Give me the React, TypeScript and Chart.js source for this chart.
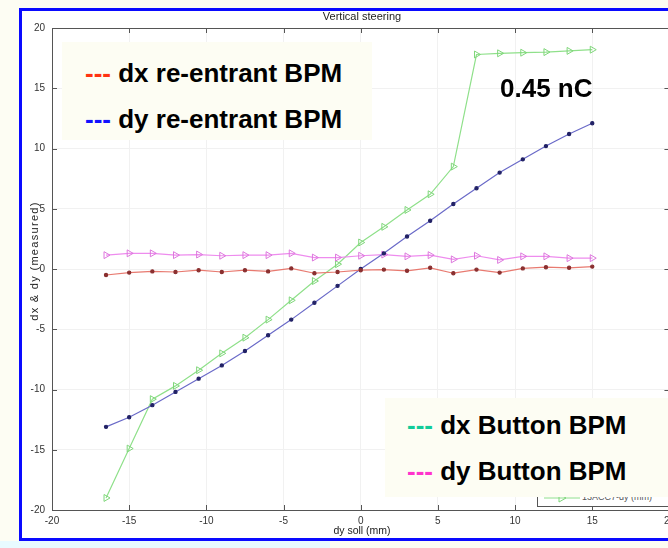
import React, { useEffect, useRef } from 'react';
import { Chart, registerables } from 'chart.js';

Chart.register(...registerables);

// ---- data ----
const xSoll = [-16.5, -15, -13.5, -12, -10.5, -9, -7.5, -6, -4.5, -3, -1.5, 0, 1.5, 3, 4.5, 6, 7.5, 9, 10.5, 12, 13.5, 15];
const redSeries = [-0.5, -0.3, -0.2, -0.25, -0.1, -0.25, -0.1, -0.2, 0.05, -0.35, -0.25, -0.1, -0.05, -0.15, 0.1, -0.35, -0.05, -0.3, 0.05, 0.15, 0.1, 0.2];
const blueSeries = [-13.1, -12.3, -11.3, -10.2, -9.1, -8.0, -6.8, -5.5, -4.2, -2.8, -1.4, 0, 1.3, 2.7, 4.0, 5.4, 6.7, 8.0, 9.1, 10.2, 11.2, 12.1];
const pinkSeries = [1.15, 1.3, 1.3, 1.15, 1.2, 1.1, 1.15, 1.15, 1.3, 0.95, 0.95, 1.1, 1.2, 1.05, 1.15, 0.8, 1.1, 0.75, 1.05, 1.05, 0.9, 0.9];
const greenSeries = [-19.0, -14.9, -10.8, -9.7, -8.4, -7.0, -5.7, -4.2, -2.6, -1.0, 0.4, 2.2, 3.5, 4.9, 6.2, 8.5, 17.8, 17.9, 17.95, 18.0, 18.1, 18.2];
const xTicks = [-20, -15, -10, -5, 0, 5, 10, 15, 20];
const yTicks = [-20, -15, -10, -5, 0, 5, 10, 15, 20];

const chartTitle = 'Vertical steering';
const xTitle = 'dy soll (mm)';
const yTitle = 'dx & dy (measured)';
const legendTop = [
  { dash: '---', color: '#ff3311', text: 'dx re-entrant BPM' },
  { dash: '---', color: '#1111ff', text: 'dy re-entrant BPM' },
];
const legendBottom = [
  { dash: '---', color: '#11cc99', text: 'dx Button BPM' },
  { dash: '---', color: '#ff33cc', text: 'dy Button BPM' },
];
const chargeLabel = '0.45 nC';
const matlabLegendLabel = '13ACC7-dy (mm)';

const toPts = (ys: number[]) => ys.map((y, i) => ({ x: xSoll[i], y }));

const matlabFrame = {
  id: 'matlabFrame',
  afterDraw(chart: any) {
    const { ctx, chartArea: a, scales } = chart;
    ctx.save();
    ctx.strokeStyle = '#555';
    ctx.lineWidth = 1;
    ctx.strokeRect(Math.round(a.left) + 0.5, Math.round(a.top) + 0.5, Math.round(a.right - a.left), Math.round(a.bottom - a.top));
    ctx.beginPath();
    xTicks.forEach((v) => {
      const px = Math.round(scales.x.getPixelForValue(v)) + 0.5;
      ctx.moveTo(px, a.bottom);
      ctx.lineTo(px, a.bottom - 5);
      ctx.moveTo(px, a.top);
      ctx.lineTo(px, a.top + 5);
    });
    yTicks.forEach((v) => {
      const py = Math.round(scales.y.getPixelForValue(v)) + 0.5;
      ctx.moveTo(a.left, py);
      ctx.lineTo(a.left + 5, py);
      ctx.moveTo(a.right, py);
      ctx.lineTo(a.right - 5, py);
    });
    ctx.stroke();
    ctx.restore();
  },
};

const bigFont = 'bold 26px "Liberation Sans", Arial, sans-serif';
const smallFont = '"Liberation Sans", Arial, sans-serif';

export default function App() {
  const ref = useRef<HTMLCanvasElement>(null);

  useEffect(() => {
    const canvas = ref.current;
    if (!canvas) return;
    const tickFont = { family: '"Liberation Sans", Arial, sans-serif', size: 10 };
    const chart = new Chart(canvas, {
      type: 'scatter',
      data: {
        datasets: [
          {
            label: 'dx',
            data: toPts(redSeries),
            showLine: true,
            borderColor: '#e87a70',
            borderWidth: 1.2,
            pointStyle: 'circle',
            pointRadius: 1.6,
            pointBackgroundColor: '#8a3030',
            pointBorderColor: '#8a3030',
          },
          {
            label: 'dy',
            data: toPts(blueSeries),
            showLine: true,
            borderColor: '#6a6ac8',
            borderWidth: 1.2,
            pointStyle: 'circle',
            pointRadius: 1.6,
            pointBackgroundColor: '#222266',
            pointBorderColor: '#222266',
          },
          {
            label: 'pink',
            data: toPts(pinkSeries),
            showLine: true,
            borderColor: '#ee8cee',
            borderWidth: 1.2,
            pointStyle: 'triangle',
            rotation: 90,
            pointRadius: 4,
            pointBackgroundColor: 'rgba(0,0,0,0)',
            pointBorderColor: '#dd77dd',
            pointBorderWidth: 1,
          },
          {
            label: matlabLegendLabel,
            data: toPts(greenSeries),
            showLine: true,
            borderColor: '#8fe08a',
            borderWidth: 1.2,
            pointStyle: 'triangle',
            rotation: 90,
            pointRadius: 4,
            pointBackgroundColor: 'rgba(0,0,0,0)',
            pointBorderColor: '#7fd67a',
            pointBorderWidth: 1,
          },
        ],
      },
      options: {
        animation: false,
        responsive: false,
        devicePixelRatio: 1,
        layout: { padding: { top: 28, right: 8, left: 0, bottom: 0 } },
        plugins: { legend: { display: false }, tooltip: { enabled: false }, title: { display: false } },
        scales: {
          x: {
            type: 'linear',
            min: -20,
            max: 20,
            afterBuildTicks: (s: any) => { s.ticks = xTicks.map((v) => ({ value: v })); },
            afterFit: (s: any) => { s.height = 38; },
            ticks: { font: tickFont, color: '#333', padding: 5, maxRotation: 0, autoSkip: false },
            grid: { color: '#f1f1f1', drawTicks: false },
            border: { display: false },
          },
          y: {
            type: 'linear',
            min: -20,
            max: 20,
            afterBuildTicks: (s: any) => { s.ticks = yTicks.map((v) => ({ value: v })); },
            afterFit: (s: any) => { s.width = 52; },
            ticks: { font: tickFont, color: '#333', padding: 7, autoSkip: false },
            grid: { color: '#f1f1f1', drawTicks: false },
            border: { display: false },
          },
        },
      },
      plugins: [matlabFrame],
    });
    return () => chart.destroy();
  }, []);

  const lineStyle = (top: number, left: number): React.CSSProperties => ({
    position: 'absolute',
    top,
    left,
    font: bigFont,
    lineHeight: '30px',
    whiteSpace: 'pre',
    color: '#000',
  });

  return (
    <div style={{ position: 'fixed', left: 0, top: 0, width: 668, height: 548, overflow: 'hidden', background: '#fdfdf3' }}>
      <div style={{ position: 'absolute', left: 0, top: 541, width: 330, height: 7, background: '#e8fbff' }} />
      <div style={{ position: 'absolute', left: 19, top: 8, width: 700, height: 533, boxSizing: 'border-box', border: '3px solid #0a0aff', background: '#ffffff' }} />
      <canvas ref={ref} width={680} height={548} style={{ position: 'absolute', left: 0, top: 0, width: 680, height: 548 }} />
      <div style={{ position: 'absolute', left: 262, width: 200, top: 10, textAlign: 'center', font: `11px ${smallFont}`, color: '#222' }}>{chartTitle}</div>
      <div style={{ position: 'absolute', left: 262, width: 200, top: 524, textAlign: 'center', font: `10.5px ${smallFont}`, color: '#222' }}>{xTitle}</div>
      <div style={{ position: 'absolute', left: 34 - 100, top: 262 - 7, width: 200, textAlign: 'center', font: `11px ${smallFont}`, letterSpacing: '1.3px', color: '#222', transform: 'rotate(-90deg)' }}>{yTitle}</div>

      {/* Matlab legend box */}
      <div style={{ position: 'absolute', left: 537, top: 484, width: 140, height: 23, boxSizing: 'border-box', border: '1px solid #555', background: '#fff' }}>
        <svg width={40} height={21} style={{ position: 'absolute', left: 4, top: 0 }}>
          <line x1={2} y1={13} x2={38} y2={13} stroke="#8fe08a" strokeWidth={1.2} />
          <polygon points="17,9 24,13 17,17" fill="none" stroke="#7fd67a" strokeWidth={1} />
        </svg>
        <div style={{ position: 'absolute', left: 44, top: 7, font: `9px ${smallFont}`, color: '#555', whiteSpace: 'pre' }}>{matlabLegendLabel}</div>
      </div>

      {/* top-left annotation box */}
      <div style={{ position: 'absolute', left: 62, top: 42, width: 310, height: 98, background: '#fdfdf3' }} />
      {legendTop.map((l, i) => (
        <div key={l.text} style={lineStyle(58 + i * 46, 85)}>
          <span style={{ color: l.color }}>{l.dash}</span> {l.text}
        </div>
      ))}
      <div style={lineStyle(73, 500)}>{chargeLabel}</div>

      {/* bottom-right annotation box */}
      <div style={{ position: 'absolute', left: 385, top: 398, width: 290, height: 99, background: '#fdfdf3' }} />
      {legendBottom.map((l, i) => (
        <div key={l.text} style={lineStyle(410 + i * 46, 407)}>
          <span style={{ color: l.color }}>{l.dash}</span> {l.text}
        </div>
      ))}
    </div>
  );
}
